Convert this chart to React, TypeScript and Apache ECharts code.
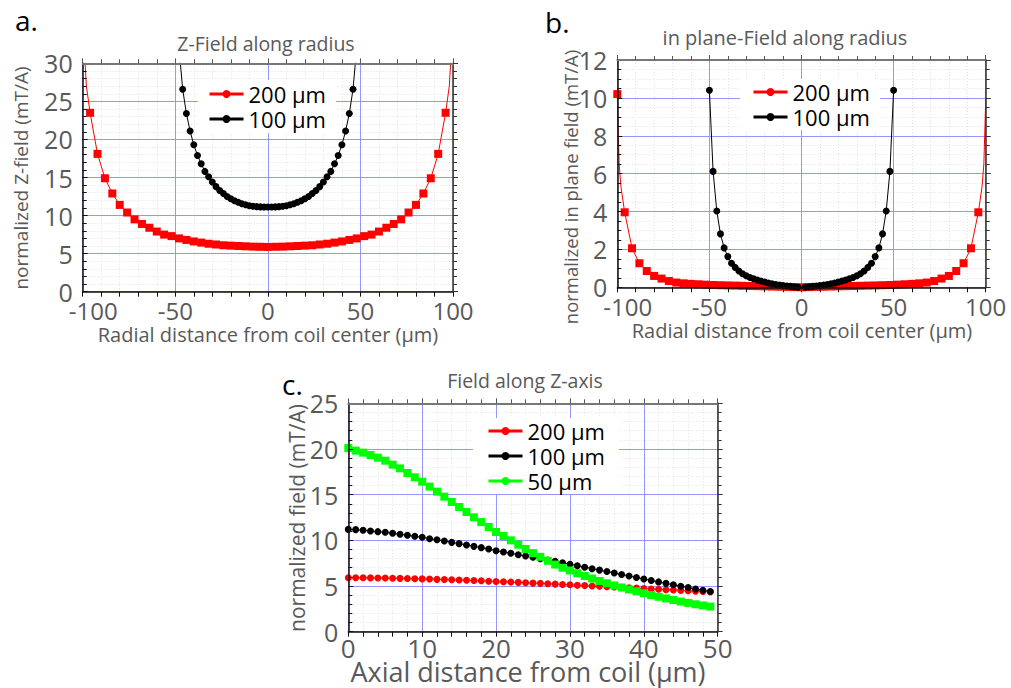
import React, { useEffect, useRef } from "react";
import * as echarts from "echarts";

const FONT = "'Open Sans', 'Noto Sans', sans-serif";
const LABEL_COLOR = "#595959";
const BLUE = "#9595ff";
const MINOR = "#e2e2e2";
const RED = "#ff0000";
const BLACK = "#000000";
const GREEN = "#00ff00";

// ---------- Panel a : Z-field along radius ----------
const aRed200X = [-96, -92, -88, -84, -80, -76, -72, -68, -64, -60, -56, -52, -48, -44, -40, -36, -32, -28, -24, -20, -16, -12, -8, -4, 0,
  4, 8, 12, 16, 20, 24, 28, 32, 36, 40, 44, 48, 52, 56, 60, 64, 68, 72, 76, 80, 84, 88, 92, 96];
const aRed200Y = [23.5, 18.1, 14.9, 12.9, 11.4, 10.4, 9.5, 8.9, 8.4, 7.9, 7.5, 7.3, 7.0, 6.8, 6.6, 6.45, 6.3, 6.2, 6.1, 6.05, 6.0, 5.96, 5.92, 5.9, 5.88,
  5.9, 5.92, 5.96, 6.0, 6.05, 6.1, 6.2, 6.3, 6.45, 6.6, 6.8, 7.0, 7.3, 7.5, 7.9, 8.4, 8.9, 9.5, 10.4, 11.4, 12.9, 14.9, 18.1, 23.5];
const aRed200EdgeLX = [-99.2, -98];
const aRed200EdgeLY = [32, 27];
const aRed200EdgeRX = [98, 99.2];
const aRed200EdgeRY = [27, 32];

const aBlack100X = [-46, -44, -42, -40, -38, -36, -34, -32, -30, -28, -26, -24, -22, -20, -18, -16, -14, -12, -10, -8, -6, -4, -2, 0,
  2, 4, 6, 8, 10, 12, 14, 16, 18, 20, 22, 24, 26, 28, 30, 32, 34, 36, 38, 40, 42, 44, 46];
const aBlack100Y = [26.6, 23.4, 21.1, 19.3, 17.9, 16.8, 15.8, 15.1, 14.4, 13.8, 13.3, 12.9, 12.5, 12.2, 11.95, 11.75, 11.55, 11.42, 11.3, 11.22, 11.17, 11.14, 11.12, 11.12,
  11.12, 11.14, 11.17, 11.22, 11.3, 11.42, 11.55, 11.75, 11.95, 12.2, 12.5, 12.9, 13.3, 13.8, 14.4, 15.1, 15.8, 16.8, 17.9, 19.3, 21.1, 23.4, 26.6];
const aBlack100EdgeLX = [-47.8];
const aBlack100EdgeLY = [31.5];
const aBlack100EdgeRX = [47.8];
const aBlack100EdgeRY = [31.5];

// ---------- Panel b : in-plane field along radius ----------
const bRed200X = [-100, -96, -92, -88, -84, -80, -76, -72, -68, -64, -60, -56, -52, -48, -44, -40, -36, -32, -28, -24, -20, -16, -12, -8, -4, 0,
  4, 8, 12, 16, 20, 24, 28, 32, 36, 40, 44, 48, 52, 56, 60, 64, 68, 72, 76, 80, 84, 88, 92, 96];
const bRed200Y = [10.2, 3.96, 2.06, 1.27, 0.86, 0.6, 0.46, 0.33, 0.25, 0.21, 0.18, 0.16, 0.14, 0.12, 0.11, 0.1, 0.09, 0.08, 0.07, 0.06, 0.05, 0.04, 0.03, 0.02, 0.01, 0,
  0.01, 0.02, 0.03, 0.04, 0.05, 0.06, 0.07, 0.08, 0.09, 0.1, 0.11, 0.12, 0.14, 0.16, 0.18, 0.21, 0.25, 0.33, 0.46, 0.6, 0.86, 1.27, 2.06, 3.96];
const bRed200CurveLX = [-99.6, -99, -98];
const bRed200CurveLY = [8.5, 6.5, 5.3];
const bRed200CurveRX = [98, 99, 99.6, 100];
const bRed200CurveRY = [5.3, 6.5, 8.5, 9.9];

const bBlack100LeftX = [-50, -48, -46, -44, -42, -40, -38, -36, -34, -32, -30, -28, -26, -24, -22, -20, -18, -16, -14, -12, -10, -8, -6, -4, -2];
const bBlack100LeftY = [10.4, 6.12, 4.03, 2.82, 2.08, 1.62, 1.27, 1.05, 0.86, 0.72, 0.61, 0.52, 0.45, 0.39, 0.33, 0.28, 0.23, 0.19, 0.15, 0.12, 0.09, 0.07, 0.05, 0.03, 0.01];
const bBlack100RightX = [2, 4, 6, 8, 10, 12, 14, 16, 18, 20, 22, 24, 26, 28, 30, 32, 34, 36, 38, 40, 42, 44, 46, 48, 50];
const bBlack100RightY = [0.01, 0.03, 0.05, 0.07, 0.09, 0.12, 0.15, 0.19, 0.23, 0.28, 0.33, 0.39, 0.45, 0.52, 0.61, 0.72, 0.86, 1.05, 1.27, 1.62, 2.08, 2.82, 4.03, 6.12, 10.4];

// ---------- Panel c : field along Z-axis ----------
const cX = [0, 1, 2, 3, 4, 5, 6, 7, 8, 9, 10, 11, 12, 13, 14, 15, 16, 17, 18, 19, 20, 21, 22, 23, 24,
  25, 26, 27, 28, 29, 30, 31, 32, 33, 34, 35, 36, 37, 38, 39, 40, 41, 42, 43, 44, 45, 46, 47, 48, 49];
const cRed200 = [5.9, 5.9, 5.9, 5.89, 5.88, 5.87, 5.86, 5.84, 5.82, 5.8,
  5.78, 5.76, 5.73, 5.71, 5.68, 5.66, 5.63, 5.6, 5.57, 5.53,
  5.5, 5.47, 5.43, 5.4, 5.36, 5.32, 5.29, 5.25, 5.21, 5.17,
  5.13, 5.09, 5.05, 5.01, 4.97, 4.93, 4.89, 4.85, 4.81, 4.77,
  4.72, 4.68, 4.64, 4.6, 4.56, 4.52, 4.48, 4.44, 4.4, 4.36];
const cBlack100 = [11.2, 11.17, 11.1, 11.02, 10.95, 10.88, 10.77, 10.66, 10.55, 10.44,
  10.33, 10.18, 10.07, 9.93, 9.78, 9.64, 9.49, 9.34, 9.2, 9.05,
  8.87, 8.72, 8.58, 8.43, 8.28, 8.14, 8.0, 7.85, 7.7, 7.55,
  7.38, 7.22, 7.06, 6.9, 6.74, 6.58, 6.42, 6.26, 6.1, 5.93,
  5.77, 5.61, 5.45, 5.29, 5.13, 4.98, 4.83, 4.68, 4.54, 4.4];
const cGreen50 = [20.1, 19.82, 19.6, 19.34, 19.05, 18.72, 18.28, 17.88, 17.37, 16.9,
  16.42, 15.88, 15.33, 14.78, 14.2, 13.65, 13.1, 12.52, 12.0, 11.46,
  10.91, 10.47, 10.0, 9.53, 9.05, 8.6, 8.2, 7.76, 7.35, 7.0,
  6.7, 6.4, 6.1, 5.82, 5.55, 5.3, 5.06, 4.84, 4.62, 4.42,
  4.2, 4.0, 3.82, 3.64, 3.47, 3.3, 3.15, 3.0, 2.87, 2.75];

const legendAB = ["200 μm", "100 μm"];
const legendC = ["200 μm", "100 μm", "50 μm"];

function pts(xs: number[], ys: number[], symbol: string) {
  return xs.map((x, i) => ({ value: [x, ys[i]], symbol }));
}

type Range = [number, number, number, number];

function axesFor(grid: number, xr: Range, yr: Range, xLabelSize: number, yLabelSize: number, xMargin: number, shiftMin: boolean) {
  const [xmin, xmax, xint, xminor] = xr;
  const [ymin, ymax, yint, yminor] = yr;
  const lbl = (size: number) => ({ color: LABEL_COLOR, fontSize: size, fontFamily: FONT, lineHeight: Math.round(size * 0.9) });
  const xLabel: any = { ...lbl(xLabelSize), margin: xMargin };
  if (shiftMin) {
    xLabel.formatter = (v: number) => (v === xmin ? `{s|${v}}` : `${v}`);
    xLabel.rich = { s: { ...lbl(xLabelSize), padding: [0, 0, 0, 21] } };
  }
  const xAxes = [
    {
      type: "value", gridIndex: grid, position: "bottom", min: xmin, max: xmax, interval: xint,
      axisLine: { show: true, onZero: false, lineStyle: { color: "#111", width: 1.5 } },
      axisTick: { show: true, inside: false, length: 5, lineStyle: { color: "#111" } },
      minorTick: { show: true, splitNumber: xminor, length: 5, lineStyle: { color: "#111" } },
      axisLabel: xLabel,
      splitLine: { show: false }, minorSplitLine: { show: false }, z: 4,
    },
    {
      type: "value", gridIndex: grid, position: "top", min: xmin, max: xmax, interval: xint,
      axisLine: { show: true, onZero: false, lineStyle: { color: "#777", width: 2 } },
      axisTick: { show: true, inside: false, length: 5, lineStyle: { color: "#555" } },
      minorTick: { show: true, splitNumber: xminor, length: 4, lineStyle: { color: "#555" } },
      axisLabel: { show: false }, splitLine: { show: false }, minorSplitLine: { show: false }, z: 5,
    },
  ];
  const yAxes = [
    {
      type: "value", gridIndex: grid, position: "left", min: ymin, max: ymax, interval: yint,
      axisLine: { show: true, onZero: false, lineStyle: { color: "#111", width: 1.5 } },
      axisTick: { show: true, inside: true, length: 5, lineStyle: { color: "#111" } },
      minorTick: { show: true, splitNumber: yminor, length: 4, lineStyle: { color: "#111" } },
      axisLabel: { ...lbl(yLabelSize), margin: 10 },
      splitLine: { show: false }, minorSplitLine: { show: false }, z: 4,
    },
    {
      type: "value", gridIndex: grid, position: "right", min: ymin, max: ymax, interval: yint,
      axisLine: { show: true, onZero: false, lineStyle: { color: "#333", width: 1.5 } },
      axisTick: { show: true, inside: false, length: 5, lineStyle: { color: "#333" } },
      minorTick: { show: true, splitNumber: yminor, length: 4, lineStyle: { color: "#333" } },
      axisLabel: { show: false }, splitLine: { show: false }, minorSplitLine: { show: false }, z: 5,
    },
  ];
  // grid-only axes: faint dotted minor grid underneath, blue major grid above it
  const gridAxis = (min: number, max: number, step: number, pos: string, color: string, type: any, z: number) => ({
    type: "value", gridIndex: grid, position: pos, min, max, interval: step,
    axisLine: { show: false, onZero: false }, axisTick: { show: false }, axisLabel: { show: false },
    splitLine: { show: true, lineStyle: { color, width: 1, type } }, z,
  });
  const xGrid = [
    gridAxis(xmin, xmax, xint / xminor, "bottom", MINOR, [1, 2], 0),
    gridAxis(xmin, xmax, xint, "bottom", BLUE, "solid", 1),
  ];
  const yGrid = [
    gridAxis(ymin, ymax, yint / yminor, "left", MINOR, [1, 2], 0),
    gridAxis(ymin, ymax, yint, "left", BLUE, "solid", 1),
  ];
  return { xAxes, yAxes, xGrid, yGrid };
}

function lineSeries(name: string, color: string, xAxisIndex: number, yAxisIndex: number, data: any[], size: number) {
  return {
    type: "line", name, xAxisIndex, yAxisIndex, data,
    symbol: "circle", symbolSize: size, showAllSymbol: true,
    lineStyle: { color, width: 1 }, itemStyle: { color },
    clip: true, z: 3, emphasis: { disabled: true },
  };
}

function legendBox(data: string[], left: number, top: number, padding: number[]) {
  return {
    data, left, top, orient: "vertical", backgroundColor: "#ffffff", padding,
    itemWidth: 34, itemHeight: 10, itemGap: 3, selectedMode: false,
    lineStyle: { width: 3 },
    textStyle: { color: "#000", fontSize: 22, fontFamily: FONT, lineHeight: 22 },
  };
}

function txt(text: string, x: number, y: number, size: number, fill: string, opts: any = {}) {
  return {
    type: "text", x, y, rotation: opts.rotation || 0, z: 10,
    style: { text, font: `${size}px ${FONT}`, lineHeight: size, fill, textAlign: opts.align || "center", textVerticalAlign: "middle" },
  };
}

export default function App() {
  const ref = useRef<HTMLDivElement>(null);
  useEffect(() => {
    if (!ref.current) return;
    const chart = echarts.init(ref.current, null, { renderer: "svg" });
    const A = axesFor(0, [-100, 100, 50, 5], [0, 30, 5, 5], 24, 25, 8, true);
    const B = axesFor(1, [-100, 100, 50, 5], [0, 12, 2, 4], 24, 25, 8, true);
    const C = axesFor(2, [0, 50, 10, 5], [0, 25, 5, 5], 26, 25, 5, false);

    const aRed = [
      ...pts(aRed200EdgeLX, aRed200EdgeLY, "none"),
      ...pts(aRed200X, aRed200Y, "rect"),
      ...pts(aRed200EdgeRX, aRed200EdgeRY, "none"),
    ];
    const aBlack = [
      ...pts(aBlack100EdgeLX, aBlack100EdgeLY, "none"),
      ...pts(aBlack100X, aBlack100Y, "circle"),
      ...pts(aBlack100EdgeRX, aBlack100EdgeRY, "none"),
    ];
    const bRed = [
      ...pts(bRed200X.slice(0, 1), bRed200Y.slice(0, 1), "rect"),
      ...pts(bRed200CurveLX, bRed200CurveLY, "none"),
      ...pts(bRed200X.slice(1), bRed200Y.slice(1), "rect"),
      ...pts(bRed200CurveRX, bRed200CurveRY, "none"),
    ];
    const bBlack = [
      ...pts(bBlack100LeftX, bBlack100LeftY, "circle"),
      { value: [0, "-"], symbol: "none" },
      ...pts(bBlack100RightX, bBlack100RightY, "circle"),
    ];

    const option: any = {
      animation: false,
      backgroundColor: "#ffffff",
      grid: [
        { left: 82.7, top: 63.3, width: 370.3, height: 228.4 },
        { left: 617.3, top: 60, width: 368.4, height: 227.3 },
        { left: 348.3, top: 403.3, width: 369.4, height: 228.4 },
      ],
      xAxis: [...A.xAxes, ...B.xAxes, ...C.xAxes, ...A.xGrid, ...B.xGrid, ...C.xGrid],
      yAxis: [...A.yAxes, ...B.yAxes, ...C.yAxes, ...A.yGrid, ...B.yGrid, ...C.yGrid],
      legend: [
        legendBox(legendAB, 198, 80, [3, 10, 3, 10]),
        legendBox(legendAB, 740, 79, [2, 10, 2, 12]),
        legendBox(legendC, 473, 418, [2, 14, 2, 14]),
      ],
      series: [
        lineSeries("200 μm", RED, 0, 0, aRed, 8),
        lineSeries("100 μm", BLACK, 0, 0, aBlack, 7),
        lineSeries("200 μm", RED, 2, 2, bRed, 8),
        lineSeries("100 μm", BLACK, 2, 2, bBlack, 7),
        lineSeries("200 μm", RED, 4, 4, pts(cX, cRed200, "circle"), 7),
        lineSeries("100 μm", BLACK, 4, 4, pts(cX, cBlack100, "circle"), 7),
        lineSeries("50 μm", GREEN, 4, 4, pts(cX, cGreen50, "rect"), 8),
      ],
      graphic: [
        txt("a.", 15, 20, 28, "#000", { align: "left" }),
        txt("b.", 545, 22, 28, "#000", { align: "left" }),
        txt("c.", 282, 384, 28, "#000", { align: "left" }),
        txt("Z-Field along radius", 266, 43, 19.5, LABEL_COLOR),
        txt("in plane-Field along radius", 785, 37, 20, LABEL_COLOR),
        txt("Field along Z-axis", 525, 380, 19.5, LABEL_COLOR),
        txt("Radial distance from coil center (μm)", 268, 334, 20, LABEL_COLOR),
        txt("Radial distance from coil center (μm)", 802, 330, 20, LABEL_COLOR),
        txt("Axial distance from coil (μm)", 528, 671, 27, LABEL_COLOR),
        txt("normalized Z-field (mT/A)", 21, 178, 19, LABEL_COLOR, { rotation: Math.PI / 2 }),
        txt("normalized in plane field (mT/A)", 570, 187, 18.5, LABEL_COLOR, { rotation: Math.PI / 2 }),
        txt("normalized field (mT/A)", 297, 518, 21, LABEL_COLOR, { rotation: Math.PI / 2 }),
      ],
    };
    chart.setOption(option);
    return () => chart.dispose();
  }, []);
  return (
    <div
      ref={ref}
      style={{ position: "absolute", left: 0, top: 0, width: 1011, height: 688, background: "#fff" }}
    />
  );
}
